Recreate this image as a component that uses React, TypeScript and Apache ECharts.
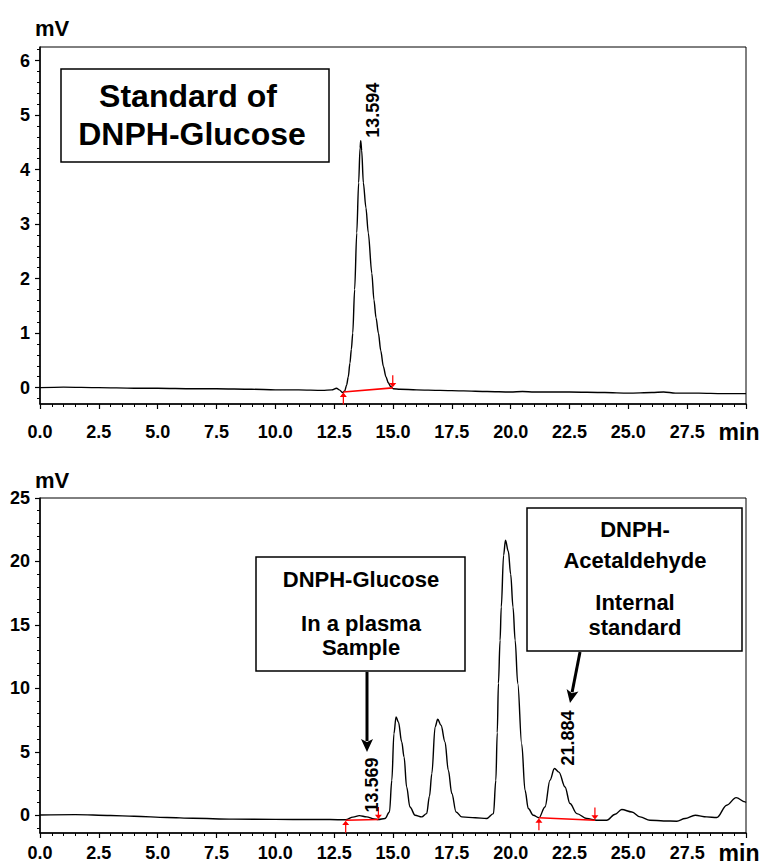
import React, { useEffect, useRef } from "react";
import * as echarts from "echarts";

// ---------- data ----------
const topTrace: [number, number][] = [
  [0, 0.0], [1, 0.01], [2.5, 0.0], [4, -0.01], [5, -0.01], [6.5, -0.02], [7.5, -0.02],
  [9, -0.03], [10, -0.04], [11, -0.04], [12, -0.05], [12.4, -0.04], [12.6, -0.01],
  [12.72, -0.04], [12.85, -0.09], [12.95, -0.06], [13.03, 0.05], [13.1, 0.2], [13.17, 0.45],
  [13.23, 0.7], [13.29, 1.0], [13.37, 1.8], [13.46, 2.84], [13.54, 3.76], [13.6, 4.4],
  [13.63, 4.53], [13.67, 4.35], [13.74, 3.76], [13.85, 3.3], [13.95, 2.84], [14.1, 2.1],
  [14.19, 1.61], [14.28, 1.28], [14.38, 1.0], [14.48, 0.68], [14.59, 0.39], [14.7, 0.2],
  [14.8, 0.09], [14.9, 0.02], [15.01, -0.02], [15.3, -0.03], [16, -0.04], [17, -0.05],
  [18, -0.06], [19, -0.07], [20, -0.08], [20.5, -0.07], [21, -0.08], [22.5, -0.08],
  [24, -0.09], [25, -0.1], [26, -0.09], [26.5, -0.08], [27, -0.1], [28, -0.1],
  [29, -0.11], [30, -0.11],
];

const bottomTrace: [number, number][] = [
  [0, 0.02], [1.5, 0.05], [3, -0.02], [4, -0.08], [5.4, -0.18], [6.5, -0.24], [8.2, -0.31],
  [10, -0.33], [11.5, -0.34], [12.32, -0.34], [12.99, -0.36], [13.3, -0.15], [13.57, -0.03],
  [13.88, -0.13], [14.2, -0.3], [14.38, -0.34], [14.66, -0.26], [14.85, 0.26], [14.95, 2.76],
  [15.04, 6.43], [15.13, 7.75], [15.23, 7.35], [15.37, 5.78], [15.47, 4.6], [15.58, 2.23],
  [15.72, 0.65], [15.94, 0.0], [16.22, -0.13], [16.43, 0.13], [16.55, 1.5], [16.65, 3.28],
  [16.79, 6.96], [16.9, 7.56], [17.04, 7.09], [17.21, 5.78], [17.35, 3.55], [17.5, 1.71],
  [17.68, 0.26], [17.92, -0.13], [18.5, -0.2], [18.98, -0.26], [19.27, 0.13], [19.37, 2.76],
  [19.43, 6.5], [19.48, 10.4], [19.55, 13.8], [19.6, 16.4], [19.7, 20.5], [19.78, 21.67],
  [19.9, 20.8], [20.0, 19.0], [20.1, 16.4], [20.19, 13.8], [20.3, 10.4], [20.47, 5.6],
  [20.61, 1.97], [20.75, 0.53], [20.96, 0.0], [21.2, -0.2], [21.46, 0.65], [21.67, 2.76],
  [21.86, 3.68], [22.05, 3.4], [22.31, 2.23], [22.52, 0.92], [22.81, 0.13], [23.23, -0.26],
  [23.66, -0.39], [24.08, -0.39], [24.44, 0.08], [24.72, 0.45], [25.15, 0.26], [25.5, -0.13],
  [25.92, -0.39], [26.5, -0.45], [27.06, -0.47], [27.41, -0.26], [27.84, 0.0], [28.33, -0.13],
  [28.76, -0.18], [29.18, 0.79], [29.58, 1.39], [29.96, 1.05], [30, 1.0],
];

const topBaseline: [number, number][] = [[12.89, -0.08], [14.99, -0.005]];
const bottomBaselineA: [number, number][] = [[12.99, -0.39], [14.38, -0.34]];
const bottomBaselineB: [number, number][] = [[21.2, -0.2], [23.58, -0.39]];

const topPeakLabels = [{ t: 13.594, v: 4.53, text: "13.594" }];
const bottomPeakLabels = [
  { t: 13.569, v: -0.03, text: "13.569" },
  { t: 21.884, v: 3.68, text: "21.884" },
];

const xMin = 0;
const xMax = 30;
const xStep = 2.5;
const topYRange = [-0.3, 6.25];
const bottomYRange = [-1.4, 25];
const topYMajor = [0, 1, 2, 3, 4, 5, 6];
const bottomYMajor = [0, 5, 10, 15, 20, 25];
const topYMinorStep = 0.2;
const bottomYMinorStep = 1;

// ---------- helpers ----------
const FONT = '"Liberation Sans", Arial, Helvetica, sans-serif';

function minorValues(lo: number, hi: number, step: number, majors: number[]) {
  const out: number[] = [];
  const start = Math.ceil(lo / step - 1e-9);
  const end = Math.floor(hi / step + 1e-9);
  for (let i = start; i <= end; i++) {
    const v = Math.round(i * step * 1000) / 1000;
    if (!majors.some((m) => Math.abs(m - v) < 1e-6)) out.push(v);
  }
  return out;
}

const UP_ARROW = "path://M4 0 L8 5 L4.7 5 L4.7 14 L3.3 14 L3.3 5 L0 5 Z";
const DOWN_ARROW = "path://M3.3 0 L4.7 0 L4.7 9 L8 9 L4 14 L0 9 L3.3 9 Z";

function xAxisCfg(gridIndex: number, margin: number) {
  return {
    gridIndex,
    type: "value",
    min: xMin,
    max: xMax,
    interval: xStep,
    axisLine: { show: true, onZero: false, lineStyle: { color: "#000", width: 1.5 } },
    axisTick: { show: true, length: 5, lineStyle: { color: "#000", width: 1.2 } },
    minorTick: { show: true, splitNumber: 5, length: 3, lineStyle: { color: "#000", width: 1 } },
    splitLine: { show: false },
    minorSplitLine: { show: false },
    axisLabel: {
      show: true,
      margin,
      color: "#000",
      fontSize: 18,
      fontWeight: "bold",
      fontFamily: FONT,
      showMinLabel: true,
      showMaxLabel: true,
      hideOverlap: false,
      formatter: (v: number) => (Math.abs(v - xMax) < 1e-6 ? "{m|min}" : v.toFixed(1)),
      rich: {
        m: { fontSize: 23, fontWeight: "bold", fontFamily: FONT, color: "#000", padding: [0, 14, 4, 0], lineHeight: 22 },
      },
    },
  };
}

function yAxesCfg(gridIndex: number, range: number[], majors: number[], minorStep: number) {
  const common = {
    gridIndex,
    type: "value",
    min: range[0],
    max: range[1],
    position: "left",
    splitLine: { show: false },
  };
  return [
    {
      ...common,
      axisLine: { show: true, onZero: false, lineStyle: { color: "#000", width: 1.5 } },
      axisTick: { show: true, length: 5, customValues: majors, lineStyle: { color: "#000", width: 1.2 } },
      axisLabel: {
        show: true,
        customValues: majors,
        margin: 10,
        color: "#000",
        fontSize: 18,
        fontWeight: "bold",
        fontFamily: FONT,
      },
    },
    {
      ...common,
      axisLine: { show: false },
      axisTick: {
        show: true,
        length: 3,
        customValues: minorValues(range[0], range[1], minorStep, majors),
        lineStyle: { color: "#000", width: 1 },
      },
      axisLabel: { show: false },
    },
  ];
}

function baselineSeries(data: [number, number][], xAxisIndex: number, yAxisIndex: number) {
  return {
    type: "line",
    xAxisIndex,
    yAxisIndex,
    data,
    showSymbol: false,
    silent: true,
    z: 3,
    lineStyle: { color: "#ff0000", width: 1.6 },
    markPoint: {
      silent: true,
      label: { show: false },
      itemStyle: { color: "#ff0000" },
      data: [
        { coord: data[0], symbol: UP_ARROW, symbolSize: [7, 12], symbolOffset: [0, "55%"] },
        { coord: data[1], symbol: DOWN_ARROW, symbolSize: [7, 12], symbolOffset: [0, "-55%"] },
      ],
    },
  };
}

function arrow(x1: number, y1: number, x2: number, y2: number) {
  const dx = x2 - x1;
  const dy = y2 - y1;
  const L = Math.hypot(dx, dy);
  const ux = dx / L;
  const uy = dy / L;
  const headLen = 13;
  const headW = 12;
  const bx = x2 - ux * headLen;
  const by = y2 - uy * headLen;
  const nx = -uy;
  const ny = ux;
  return [
    { type: "line", shape: { x1, y1, x2: bx + ux * 2, y2: by + uy * 2 }, style: { stroke: "#000", lineWidth: 3 } },
    {
      type: "polygon",
      shape: {
        points: [
          [x2, y2],
          [bx + (nx * headW) / 2, by + (ny * headW) / 2],
          [bx + ux * 3, by + uy * 3],
          [bx - (nx * headW) / 2, by - (ny * headW) / 2],
        ],
      },
      style: { fill: "#000" },
    },
  ];
}

function boxText(lines: { text: string; x: number; y: number }[], size: number) {
  return lines.map((l) => ({
    type: "text",
    x: l.x,
    y: l.y,
    z: 20,
    style: {
      text: l.text,
      fill: "#000",
      font: `bold ${size}px ${FONT}`,
      align: "center",
      verticalAlign: "middle",
    },
  }));
}

export default function App() {
  const ref = useRef<HTMLDivElement>(null);

  useEffect(() => {
    if (!ref.current) return;
    const chart = echarts.init(ref.current, undefined, { renderer: "svg" });

    const option: any = {
      animation: false,
      backgroundColor: "#ffffff",
      grid: [
        { left: 40, top: 47, width: 706, height: 357, show: true, borderColor: "#000", borderWidth: 1, containLabel: false, outerBoundsMode: "none" },
        { left: 40, top: 498, width: 706, height: 335, show: true, borderColor: "#000", borderWidth: 1, containLabel: false, outerBoundsMode: "none" },
      ],
      xAxis: [xAxisCfg(0, 19), xAxisCfg(1, 11)],
      yAxis: [
        ...yAxesCfg(0, topYRange, topYMajor, topYMinorStep),
        ...yAxesCfg(1, bottomYRange, bottomYMajor, bottomYMinorStep),
      ],
      series: [
        {
          type: "line",
          xAxisIndex: 0,
          yAxisIndex: 0,
          data: topTrace,
          showSymbol: false,
          smooth: 0.3,
          smoothMonotone: "x",
          silent: true,
          z: 2,
          lineStyle: { color: "#000", width: 1.4 },
        },
        {
          type: "line",
          xAxisIndex: 1,
          yAxisIndex: 2,
          data: bottomTrace,
          showSymbol: false,
          smooth: 0.35,
          smoothMonotone: "x",
          silent: true,
          z: 2,
          lineStyle: { color: "#000", width: 1.4 },
        },
        baselineSeries(topBaseline, 0, 0),
        baselineSeries(bottomBaselineA, 1, 2),
        baselineSeries(bottomBaselineB, 1, 2),
      ],
    };
    chart.setOption(option);

    const peakText = (x: number, y: number, text: string) => ({
      type: "text",
      x,
      y,
      rotation: Math.PI / 2,
      z: 20,
      style: {
        text,
        fill: "#000",
        font: `bold 18px ${FONT}`,
        align: "left",
        verticalAlign: "middle",
      },
    });

    const graphics: any[] = [];
    topPeakLabels.forEach((p) => {
      const [px, py] = chart.convertToPixel({ xAxisIndex: 0, yAxisIndex: 0 }, [p.t, p.v]) as number[];
      graphics.push(peakText(px + 13, py - 3, p.text));
    });
    bottomPeakLabels.forEach((p) => {
      const [px, py] = chart.convertToPixel({ xAxisIndex: 1, yAxisIndex: 2 }, [p.t, p.v]) as number[];
      graphics.push(peakText(px + 13, py - 3, p.text));
    });

    // unit labels
    graphics.push({ type: "text", x: 35, y: 28, style: { text: "mV", fill: "#000", font: `bold 22px ${FONT}`, align: "left", verticalAlign: "middle" } });
    graphics.push({ type: "text", x: 35, y: 480, style: { text: "mV", fill: "#000", font: `bold 22px ${FONT}`, align: "left", verticalAlign: "middle" } });

    // top annotation box
    graphics.push({ type: "rect", z: 15, shape: { x: 61, y: 69, width: 268, height: 93 }, style: { fill: "#fff", stroke: "#000", lineWidth: 1.5 } });
    graphics.push(...boxText([
      { text: "Standard of", x: 188, y: 96 },
      { text: "DNPH-Glucose", x: 192, y: 134 },
    ], 32));

    // bottom annotation box 1
    graphics.push({ type: "rect", z: 15, shape: { x: 256, y: 557, width: 209, height: 114 }, style: { fill: "#fff", stroke: "#000", lineWidth: 1.5 } });
    graphics.push(...boxText([
      { text: "DNPH-Glucose", x: 361, y: 579 },
      { text: "In a plasma", x: 361, y: 623 },
      { text: "Sample", x: 361, y: 647 },
    ], 22));
    graphics.push(...arrow(367, 672, 367, 752));

    // bottom annotation box 2
    graphics.push({ type: "rect", z: 15, shape: { x: 527, y: 508, width: 215, height: 143 }, style: { fill: "#fff", stroke: "#000", lineWidth: 1.5 } });
    graphics.push(...boxText([
      { text: "DNPH-", x: 635, y: 529 },
      { text: "Acetaldehyde", x: 635, y: 560 },
      { text: "Internal", x: 635, y: 602 },
      { text: "standard", x: 635, y: 627 },
    ], 22));
    graphics.push(...arrow(580, 652, 570, 703));

    chart.setOption({ graphic: graphics.map((g) => ({ ...g, z: g.z ?? 20 })) });

    return () => chart.dispose();
  }, []);

  return (
    <div
      ref={ref}
      style={{ position: "absolute", left: 0, top: 0, width: 766, height: 865, background: "#fff" }}
    />
  );
}
